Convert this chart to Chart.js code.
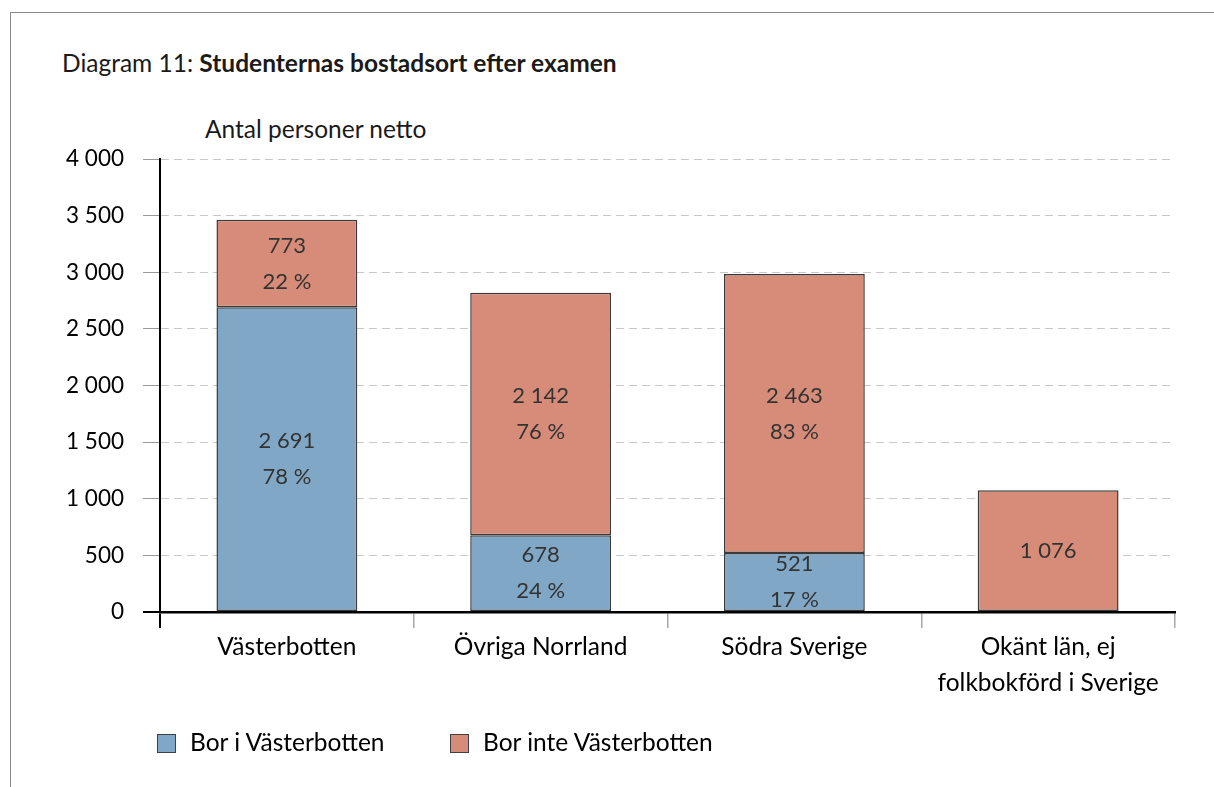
<!DOCTYPE html>
<html>
<head>
<meta charset="utf-8">
<script src="https://cdn.jsdelivr.net/npm/chart.js@4.4.0/dist/chart.umd.min.js"></script>
<style>
  body { margin: 0; background: #fff; font-family: Lato, sans-serif; }
  #wrap { position: relative; width: 1214px; height: 787px; overflow: hidden; }
  #frame { position: absolute; left: 10px; top: 12px; right: -2px; bottom: -2px;
           border-top: 1px solid #8a8a8a; border-left: 1px solid #8a8a8a; }
  #title { position: absolute; left: 62px; top: 48px; font-size: 24.5px; color: #1a1a1a; white-space: nowrap; }
  #ylabel { position: absolute; left: 205px; top: 114px; font-size: 24.5px; color: #1a1a1a; white-space: nowrap; }
  canvas { position: absolute; left: 0; top: 0; }
  .leg { position: absolute; top: 730px; font-size: 24.5px; color: #000; white-space: nowrap; line-height: 24px; }
  .leg span { display: inline-block; width: 17px; height: 17px; border: 1px solid #404040;
              vertical-align: -2px; margin-right: 14px; }
</style>
</head>
<body>
<div id="wrap">
  <div id="frame"></div>
  <div id="title">Diagram 11: <b>Studenternas bostadsort efter examen</b></div>
  <div id="ylabel">Antal personer netto</div>
  <canvas id="chart" width="1214" height="787"></canvas>
  <div id="legend"></div>
</div>
<script>
const categories = ["Västerbotten", "Övriga Norrland", "Södra Sverige", ["Okänt län, ej", "folkbokförd i Sverige"]]
const borIVasterbotten = [2691, 678, 521, null]
const borInteVasterbotten = [773, 2142, 2463, 1076]
const pctBor = [78, 24, 17, null]
const pctInte = [22, 76, 83, null]
const yTicks = [0, 500, 1000, 1500, 2000, 2500, 3000, 3500, 4000]

const blue = "#80a8c6"
const red = "#d68c79"
const fontFam = "Lato, sans-serif"

function fmt(v) {
  return String(v).replace(/\B(?=(\d{3})+(?!\d))/g, " ")
}

// value + percent written inside each bar piece
const segmentLabels = {
  id: "segmentLabels",
  afterDatasetsDraw(chart) {
    const ctx = chart.ctx
    const pcts = [pctBor, pctInte]
    ctx.save()
    ctx.font = "22px " + fontFam
    ctx.fillStyle = "#333"
    ctx.textAlign = "center"
    ctx.textBaseline = "middle"
    chart.data.datasets.forEach((ds, di) => {
      chart.getDatasetMeta(di).data.forEach((bar, i) => {
        const v = ds.data[i]
        if (v == null) return
        const cx = bar.x
        const cy = (bar.y + bar.base) / 2
        const p = pcts[di][i]
        if (p == null) {
          ctx.fillText(fmt(v), cx, cy)
        } else {
          ctx.fillText(fmt(v), cx, cy - 18)
          ctx.fillText(p + " %", cx, cy + 18)
        }
      })
    })
    ctx.restore()
  }
}

const chart = new Chart(document.getElementById("chart"), {
  type: "bar",
  data: {
    labels: categories,
    datasets: [
      {
        label: "Bor i Västerbotten",
        data: borIVasterbotten,
        backgroundColor: blue,
        borderColor: "#3a3a3a",
        borderWidth: 1.5,
        borderSkipped: false,
      },
      {
        label: "Bor inte Västerbotten",
        data: borInteVasterbotten,
        backgroundColor: red,
        borderColor: "#3a3a3a",
        borderWidth: 1.5,
        borderSkipped: false,
      },
    ],
  },
  options: {
    responsive: false,
    animation: false,
    devicePixelRatio: 1,
    layout: { padding: { top: 159, right: 39, bottom: 75, left: 0 } },
    datasets: { bar: { categoryPercentage: 1, barPercentage: 0.555 } },
    scales: {
      x: {
        stacked: true,
        offset: true,
        grid: {
          offset: true,
          drawOnChartArea: false,
          tickLength: 16,
          color: (c) => (c.index === 0 ? "#000" : "#a8a8a8"),
          lineWidth: (c) => (c.index === 0 ? 2 : 1.5),
        },
        border: { color: "#000", width: 2.5 },
        ticks: {
          color: "#000",
          padding: 1,
          font: { family: fontFam, size: 24.5, lineHeight: "36px" },
        },
        afterFit: (s) => { s.height = 100 },
      },
      y: {
        stacked: true,
        min: 0,
        max: 4000,
        afterBuildTicks: (s) => { s.ticks = yTicks.map((v) => ({ value: v })) },
        grid: {
          color: (c) => (c.tick && c.tick.value === 0 ? "#000" : "#c8c8c8"),
          tickColor: (c) => (c.tick && c.tick.value === 0 ? "#000" : "#9a9a9a"),
          lineWidth: (c) => (c.tick && c.tick.value === 0 ? 2 : 1),
          tickLength: 17,
          tickBorderDash: [],
        },
        border: { color: "#000", width: 2, dash: [8, 5] },
        ticks: {
          color: "#000",
          padding: 19,
          font: { family: fontFam, size: 22.5 },
          callback: (v) => fmt(v),
        },
        afterFit: (s) => { s.width = 160 },
      },
    },
    plugins: {
      legend: { display: false },
      tooltip: { enabled: false },
    },
  },
  plugins: [segmentLabels],
})

// legend built from the chart's datasets
const legendLeft = [157, 450]
chart.data.datasets.forEach((ds, i) => {
  const d = document.createElement("div")
  d.className = "leg"
  d.style.left = legendLeft[i] + "px"
  d.innerHTML = '<span style="background:' + ds.backgroundColor + '"></span>' + ds.label
  document.getElementById("legend").appendChild(d)
})
</script>
</body>
</html>
